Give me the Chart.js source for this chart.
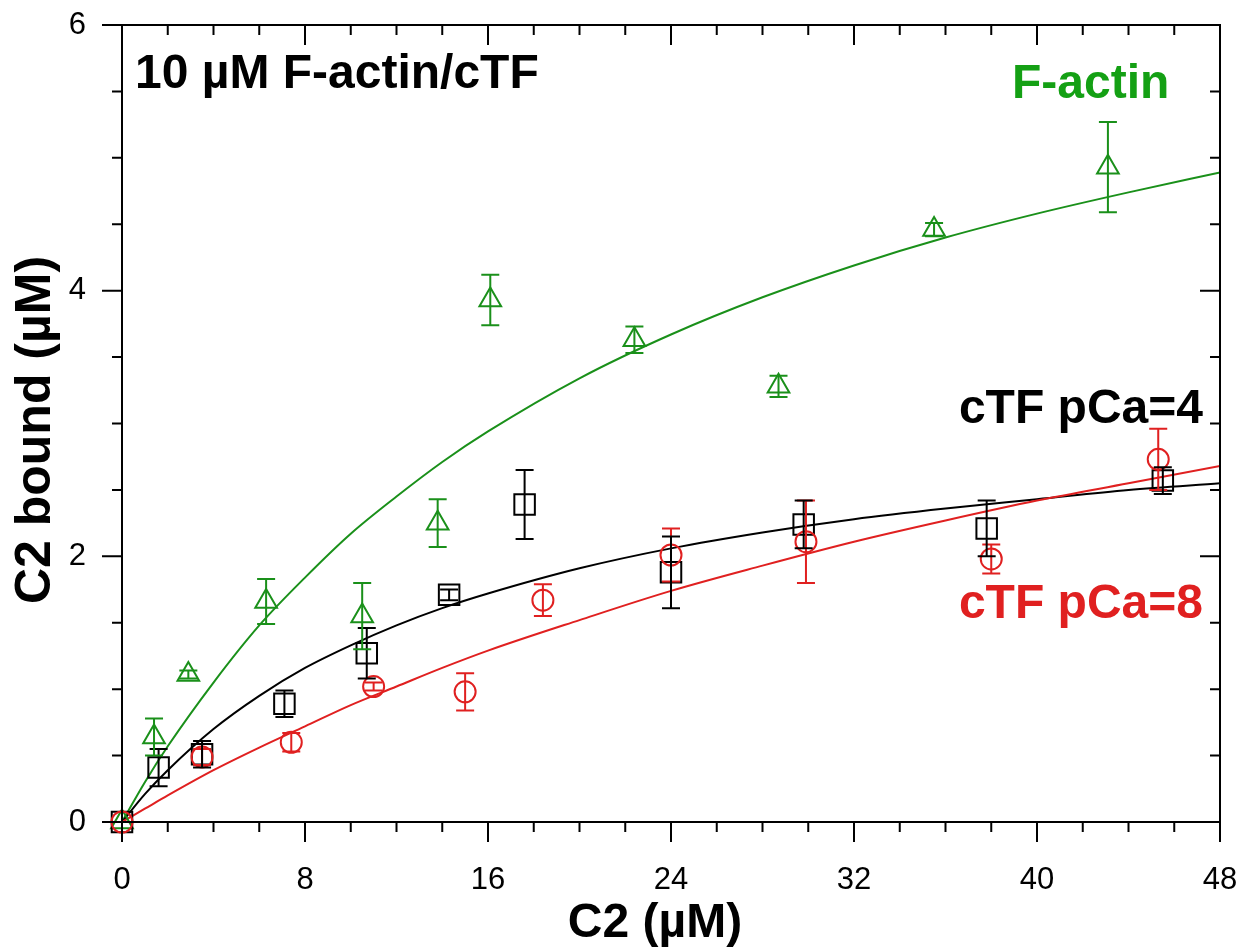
<!DOCTYPE html>
<html>
<head>
<meta charset="utf-8">
<script src="https://cdn.jsdelivr.net/npm/chart.js@4"></script>
<style>
  html, body { margin: 0; padding: 0; background: #fff; }
  #wrap { width: 1256px; height: 948px; }
</style>
</head>
<body>
<div id="wrap"><canvas id="c2-chart" width="1256" height="948"></canvas></div>
<script>
// ====================
// Datos
// ====================
const xTicksMajor = [0, 8, 16, 24, 32, 40, 48];
const yTicksMajor = [0, 2, 4, 6];

// F-actin (triángulos verdes)
const fActinX   = [0, 1.4, 2.9, 6.3, 10.5, 13.8, 16.1, 22.4, 28.7, 35.5, 43.1];
const fActinY   = [0, 0.64, 1.11, 1.66, 1.55, 2.25, 3.93, 3.63, 3.28, 4.46, 4.93];
const fActinErr = [0, 0.14, 0.03, 0.17, 0.25, 0.18, 0.19, 0.10, 0.08, 0.05, 0.34];

// cTF pCa=4 (cuadrados negros)
const pCa4X   = [0, 1.6, 3.5, 7.1, 10.7, 14.3, 17.6, 24.0, 29.8, 37.8, 45.5];
const pCa4Y   = [0, 0.41, 0.51, 0.89, 1.27, 1.71, 2.39, 1.88, 2.24, 2.21, 2.57];
const pCa4Err = [0, 0.14, 0.10, 0.10, 0.19, 0.04, 0.26, 0.27, 0.18, 0.21, 0.10];

// cTF pCa=8 (círculos rojos)
const pCa8X   = [0, 3.5, 7.4, 11.0, 15.0, 18.4, 24.0, 29.9, 38.0, 45.3];
const pCa8Y   = [0, 0.49, 0.60, 1.02, 0.98, 1.67, 2.01, 2.11, 1.98, 2.73];
const pCa8Err = [0, 0.06, 0.07, 0.03, 0.14, 0.12, 0.20, 0.31, 0.11, 0.23];

// Curvas de ajuste
const fitX      = [0, 1, 2, 4, 6, 8, 10, 12, 14, 16, 20, 24, 28, 32, 36, 40, 44, 48];
const fitFActin = [0, 0.30, 0.57, 1.05, 1.48, 1.84, 2.17, 2.45, 2.71, 2.94, 3.34, 3.67, 3.95, 4.19, 4.40, 4.58, 4.74, 4.89];
const fitPCa4   = [0, 0.21, 0.39, 0.70, 0.95, 1.16, 1.33, 1.48, 1.61, 1.72, 1.91, 2.06, 2.18, 2.28, 2.36, 2.43, 2.50, 2.55];
const fitPCa8   = [0, 0.10, 0.20, 0.39, 0.56, 0.72, 0.88, 1.02, 1.16, 1.29, 1.52, 1.74, 1.93, 2.11, 2.27, 2.42, 2.55, 2.68];

// ====================
// Estilos
// ====================
const GREEN = '#1a901a';
const GREEN_TXT = '#14a014';
const RED = '#e02020';
const BLACK = '#000000';
const FONT = "'Liberation Sans', Arial, sans-serif";

const toPoints = (xs, ys) => xs.map((x, i) => ({ x, y: ys[i] }));

// ====================
// Plugins
// ====================

// Barras de error
const errorBars = {
  id: 'errorBars',
  afterDatasetsDraw(chart) {
    const ctx = chart.ctx;
    const xs = chart.scales.x, ys = chart.scales.y;
    chart.data.datasets.forEach(ds => {
      if (!ds.errors) return;
      ctx.save();
      ctx.strokeStyle = ds.borderColor;
      ctx.lineWidth = 2;
      ds.data.forEach((p, i) => {
        const e = ds.errors[i];
        if (!e) return;
        const px = xs.getPixelForValue(p.x);
        const top = ys.getPixelForValue(p.y + e);
        const bot = ys.getPixelForValue(p.y - e);
        ctx.beginPath();
        ctx.moveTo(px, top); ctx.lineTo(px, bot);
        ctx.moveTo(px - 9, top); ctx.lineTo(px + 9, top);
        ctx.moveTo(px - 9, bot); ctx.lineTo(px + 9, bot);
        ctx.stroke();
      });
      ctx.restore();
    });
  }
};

// Marco, marcas de ejes y textos
const frameAndText = {
  id: 'frameAndText',
  afterDraw(chart) {
    const ctx = chart.ctx;
    const { left, right, top, bottom } = chart.chartArea;
    const xs = chart.scales.x, ys = chart.scales.y;
    ctx.save();
    ctx.strokeStyle = BLACK;
    ctx.lineWidth = 2;
    ctx.strokeRect(left, top, right - left, bottom - top);

    ctx.beginPath();
    xs.ticks.forEach(t => {
      const px = xs.getPixelForValue(t.value);
      const len = xTicksMajor.includes(t.value) ? 20 : 10;
      ctx.moveTo(px, bottom); ctx.lineTo(px, bottom + len); // fuera
      ctx.moveTo(px, top); ctx.lineTo(px, top + len);       // dentro
    });
    ys.ticks.forEach(t => {
      const py = ys.getPixelForValue(t.value);
      const len = yTicksMajor.includes(t.value) ? 20 : 10;
      ctx.moveTo(left, py); ctx.lineTo(left - len, py);     // fuera
      ctx.moveTo(right, py); ctx.lineTo(right - len, py);   // dentro
    });
    ctx.stroke();

    // Títulos de ejes
    ctx.fillStyle = BLACK;
    ctx.font = `bold 48px ${FONT}`;
    ctx.textAlign = 'center';
    ctx.textBaseline = 'alphabetic';
    ctx.fillText('C2 (µM)', 655, 937);

    ctx.save();
    ctx.translate(50, 430);
    ctx.rotate(-Math.PI / 2);
    ctx.font = `bold 50px ${FONT}`;
    ctx.fillText('C2 bound (µM)', 0, 0);
    ctx.restore();

    // Etiquetas
    ctx.font = `bold 48px ${FONT}`;
    ctx.textAlign = 'left';
    ctx.fillStyle = BLACK;
    ctx.fillText('10 µM F-actin/cTF', 135, 88);
    ctx.fillStyle = GREEN_TXT;
    ctx.fillText('F-actin', 1012, 98);
    ctx.textAlign = 'right';
    ctx.fillStyle = BLACK;
    ctx.fillText('cTF pCa=4', 1203, 423);
    ctx.fillStyle = RED;
    ctx.fillText('cTF pCa=8', 1203, 618);
    ctx.restore();
  }
};

// ====================
// Gráfico
// ====================
const ctx = document.getElementById('c2-chart').getContext('2d');

const fitLine = (ys, color) => ({
  type: 'line',
  data: toPoints(fitX, ys),
  borderColor: color,
  borderWidth: 2,
  pointRadius: 0,
  showLine: true,
  cubicInterpolationMode: 'monotone',
  fill: false
});

const markers = (xs, ys, errs, color, style, radius) => ({
  type: 'scatter',
  data: toPoints(xs, ys),
  errors: errs,
  borderColor: color,
  backgroundColor: 'rgba(0,0,0,0)',
  pointStyle: style,
  pointRadius: radius,
  pointBorderWidth: 2,
  pointBorderColor: color,
  pointBackgroundColor: 'rgba(0,0,0,0)',
  showLine: false,
  clip: false
});

new Chart(ctx, {
  type: 'scatter',
  data: {
    datasets: [
      markers(pCa8X, pCa8Y, pCa8Err, RED, 'circle', 10.5),
      markers(pCa4X, pCa4Y, pCa4Err, BLACK, 'rect', 14.5),
      markers(fActinX, fActinY, fActinErr, GREEN, 'triangle', 12.5),
      fitLine(fitPCa8, RED),
      fitLine(fitPCa4, BLACK),
      fitLine(fitFActin, GREEN)
    ]
  },
  options: {
    responsive: false,
    animation: false,
    layout: { padding: { top: 25, right: 36, left: 0, bottom: 0 } },
    plugins: {
      legend: { display: false },
      tooltip: { enabled: false }
    },
    scales: {
      x: {
        type: 'linear',
        min: 0, max: 48,
        grid: { display: false, drawTicks: false },
        border: { display: false },
        ticks: {
          stepSize: 2,
          autoSkip: false,
          maxRotation: 0,
          padding: 40,
          color: BLACK,
          font: { family: FONT, size: 31 },
          callback: v => (xTicksMajor.includes(v) ? String(v) : '')
        },
        afterFit: s => {
          s.height = 126;
          s.paddingLeft = 0;
          s.paddingRight = 0;
        }
      },
      y: {
        type: 'linear',
        min: 0, max: 6,
        grid: { display: false, drawTicks: false },
        border: { display: false },
        ticks: {
          stepSize: 0.5,
          autoSkip: false,
          padding: 36,
          color: BLACK,
          font: { family: FONT, size: 31 },
          callback: v => (yTicksMajor.includes(v) ? String(v) : '')
        },
        afterFit: s => {
          s.width = 122;
          s.paddingTop = 0;
          s.paddingBottom = 0;
        }
      }
    }
  },
  plugins: [errorBars, frameAndText]
});
</script>
</body>
</html>
